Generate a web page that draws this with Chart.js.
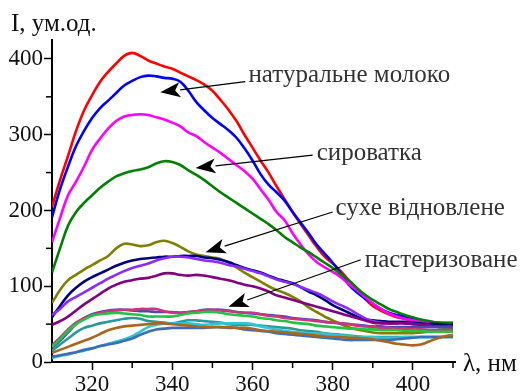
<!DOCTYPE html>
<html><head><meta charset="utf-8">
<script src="https://cdn.jsdelivr.net/npm/chart.js@4/dist/chart.umd.min.js"></script>
<style>html,body{margin:0;padding:0;background:#fff;}#wrap{width:522px;height:391px;}</style>
</head><body><div id="wrap"><canvas id="c" width="522" height="391"></canvas></div>
<script>
const wavelengths = [310,312,314,316,318,320,322,324,326,328,330,332,334,336,338,340,342,344,346,348,350,352,354,356,358,360,362,364,366,368,370,372,374,376,378,380,382,384,386,388,390,392,394,396,398,400,402,404,406,408,410];
const xTickLabels = [320,340,360,380,400];
const yTickLabels = [0,100,200,300,400];

const redSeries = [205,240,272,305,332,352,370,383,394,404,408,404,398,394,390,387,382,377,372,366,358,346,333,318,300,283,266,250,232,215,198,182,167,152,139,130,120,108,97,84,74,68,63,59,57,55,54,52,51,50,49];
const blueSeries = [191,228,258,285,305,322,335,345,355,365,371,376,378,377,375,374,370,358,343,332,322,314,306,296,282,266,248,234,224,213,198,184,170,155,143,131,117,102,92,84,77,70,65,62,60,57,55,53,52,51,50];
const magentaSeries = [158,190,220,238,258,280,295,308,318,324,326,327,326,323,320,316,311,303,298,290,283,276,268,260,252,242,228,214,198,187,170,155,142,132,125,119,112,103,95,86,77,70,64,60,57,55,54,53,52,52,52];
const greenSeries = [118,150,180,198,210,220,230,238,245,249,252,254,257,262,265,264,260,253,247,240,232,224,217,210,203,196,189,182,174,165,158,151,145,138,131,124,116,108,98,89,82,76,70,66,62,59,56,54,52,51,51];
const oliveSeries = [78,95,108,115,122,128,134,140,150,156,155,153,154,158,160,157,152,146,142,140,138,136,131,125,118,112,106,100,95,91,86,80,72,66,60,55,50,46,43,41,39,38,38,38,38,38,39,40,42,44,45];
const navySeries = [59,74,88,98,106,112,117,122,127,131,134,136,137,138,139,139,140,140,140,138,137,135,132,128,124,121,118,114,110,107,104,99,93,88,82,75,70,65,60,56,55,54,53,53,53,52,51,50,50,49,49];
const violetSeries = [62,70,80,86,92,98,104,110,115,120,124,127,130,134,137,139,139,138,136,134,133,131,128,126,123,120,117,113,109,106,103,99,95,91,86,80,75,70,64,58,54,52,51,51,51,50,49,48,47,47,46];
const purpleSeries = [49,54,60,68,76,83,90,97,102,106,108,110,111,114,117,117,115,114,115,114,112,110,108,105,102,100,97,93,88,85,82,79,76,73,70,67,64,61,58,55,52,51,51,51,51,50,49,48,47,47,46];
const crimsonSeries = [22,32,43,52,58,62,65,67,68,69,69,70,70,70,67,65,65,66,67,68,69,68,67,66,65,65,63,61,60,58,57,56,55,54,53,52,51,50,48,47,46,45,45,44,44,43,43,42,42,42,42];
const slateSeries = [19,28,39,50,58,63,66,68,69,69,68,67,67,66,66,66,65,66,67,69,69,69,68,66,65,64,63,62,61,60,58,57,56,55,53,52,51,50,49,48,47,47,46,46,46,46,46,46,46,46,46];
const limeSeries = [20,30,41,50,56,61,63,64,65,64,63,62,60,60,60,60,62,64,65,66,66,65,63,62,61,60,58,57,55,54,52,51,50,48,47,46,45,44,44,43,43,42,42,42,41,41,41,40,40,40,40];
const tealSeries = [15,23,31,39,45,48,51,53,55,57,58,57,54,53,52,51,53,55,55,54,53,52,50,49,49,49,48,47,46,45,44,42,41,40,38,37,36,35,34,33,33,33,33,33,33,33,33,33,33,33,33];
const brownSeries = [12,16,20,24,28,32,37,42,45,47,48,49,50,51,51,50,49,48,47,46,46,46,46,45,45,44,42,41,40,39,38,37,36,35,34,33,33,32,32,31,30,28,26,24,23,22,23,27,31,34,36];
const steelSeries = [7,9,11,13,16,18,21,23,25,28,31,36,40,43,44,45,45,45,45,45,46,46,45,45,43,42,41,40,38,37,36,35,34,33,32,31,30,29,29,29,29,29,29,30,31,32,33,33,33,33,33];
const cyanSeries = [5,8,10,13,15,18,21,24,27,30,34,40,46,49,51,51,51,51,50,49,50,51,51,51,51,50,47,45,43,41,40,39,38,38,37,36,35,34,33,33,33,32,32,32,33,33,33,33,33,33,34];

const seriesList = [
  [brownSeries,'#A8661E'],[steelSeries,'#3F6DB5'],[cyanSeries,'#2EC6D6'],[tealSeries,'#2A9A98'],
  [limeSeries,'#22C444'],[crimsonSeries,'#C8387A'],[slateSeries,'#4A4AAE'],
  [purpleSeries,'#800080'],[violetSeries,'#8A2BFF'],[navySeries,'#000080'],[oliveSeries,'#808000'],
  [greenSeries,'#008000'],[magentaSeries,'#FF00FF'],[blueSeries,'#0000FF'],[redSeries,'#FF0000']
];

const annotations = [
  {text:'натуральне молоко', tx:359, ty:378, from:[358.2,370], tip:[337,356]},
  {text:'сироватка', tx:376, ty:275, from:[375,273], tip:[345.8,256]},
  {text:'сухе відновлене', tx:380.7, ty:203, from:[380,198], tip:[348.3,145]},
  {text:'пастеризоване', tx:388, ty:134, from:[387,135], tip:[354,73]}
];

const datasets = seriesList.map(([vals,color]) => ({
  data: wavelengths.map((w,i)=>({x:w,y:vals[i]})),
  borderColor: color, borderWidth: 2.6, pointRadius: 0, tension: 0.4, fill:false
}));

const FONT = '"Liberation Serif","Times New Roman",serif';

const overlay = {
  id:'overlay',
  afterDraw(chart){
    const ctx = chart.ctx, xs = chart.scales.x, ys = chart.scales.y;
    ctx.save();
    ctx.strokeStyle = '#000'; ctx.lineWidth = 1.5;
    for (let v=330; v<=410; v+=20){ const px = xs.getPixelForValue(v); ctx.beginPath(); ctx.moveTo(px, ys.bottom); ctx.lineTo(px, ys.bottom+6); ctx.stroke(); }
    for (let v=50; v<=400; v+=100){ const py = ys.getPixelForValue(v); ctx.beginPath(); ctx.moveTo(xs.left, py); ctx.lineTo(xs.left-6, py); ctx.stroke(); }
    annotations.forEach(a=>{
      const fx = xs.getPixelForValue(a.from[0]), fy = ys.getPixelForValue(a.from[1]);
      const tx = xs.getPixelForValue(a.tip[0]), ty = ys.getPixelForValue(a.tip[1]);
      const ang = Math.atan2(ty-fy, tx-fx);
      const L = 20, W = 7.5;
      const bx = tx - L*Math.cos(ang), by = ty - L*Math.sin(ang);
      ctx.strokeStyle = '#000'; ctx.lineWidth = 1.2;
      ctx.beginPath(); ctx.moveTo(fx,fy); ctx.lineTo(bx,by); ctx.stroke();
      ctx.fillStyle = '#000';
      ctx.beginPath(); ctx.moveTo(tx,ty);
      ctx.lineTo(bx + W*Math.sin(ang), by - W*Math.cos(ang));
      ctx.lineTo(bx + 5*Math.cos(ang), by + 5*Math.sin(ang));
      ctx.lineTo(bx - W*Math.sin(ang), by + W*Math.cos(ang));
      ctx.closePath(); ctx.fill();
      ctx.fillStyle = '#333'; ctx.font = '25px ' + FONT; ctx.textBaseline = 'middle'; ctx.textAlign='left';
      ctx.fillText(a.text, xs.getPixelForValue(a.tx), ys.getPixelForValue(a.ty));
    });
    ctx.fillStyle = '#111'; ctx.font = '25px ' + FONT; ctx.textBaseline='middle'; ctx.textAlign='left';
    ctx.fillText('I, ум.од.', 11, 24);
    ctx.fillText('λ, нм', xs.right + 8, ys.bottom + 2);
    ctx.restore();
  }
};

new Chart(document.getElementById('c'), {
  type:'line',
  data:{datasets},
  options:{
    responsive:false, animation:false, devicePixelRatio:1,
    layout:{padding:{top:40,right:67,left:0,bottom:0}},
    plugins:{legend:{display:false}, tooltip:{enabled:false}},
    scales:{
      x:{type:'linear', min:310, max:410.5,
        afterBuildTicks(s){ s.ticks = xTickLabels.map(v=>({value:v})); },
        afterFit(s){ s.height = 29; },
        grid:{drawOnChartArea:false, drawTicks:true, tickLength:8, tickWidth:1.5, tickColor:'#000'},
        border:{display:true, color:'#000', width:2},
        ticks:{color:'#111', padding:1, font:{family:FONT, size:23}, maxRotation:0, callback:v=>String(v)}
      },
      y:{type:'linear', min:0, max:425,
        afterBuildTicks(s){ s.ticks = yTickLabels.map(v=>({value:v})); },
        afterFit(s){ s.width = 52; },
        grid:{drawOnChartArea:false, drawTicks:true, tickLength:8, tickWidth:1.5, tickColor:'#000'},
        border:{display:true, color:'#000', width:2},
        ticks:{color:'#111', padding:1, font:{family:FONT, size:23}, callback:v=>String(v)}
      }
    }
  },
  plugins:[overlay]
});
</script></body></html>
